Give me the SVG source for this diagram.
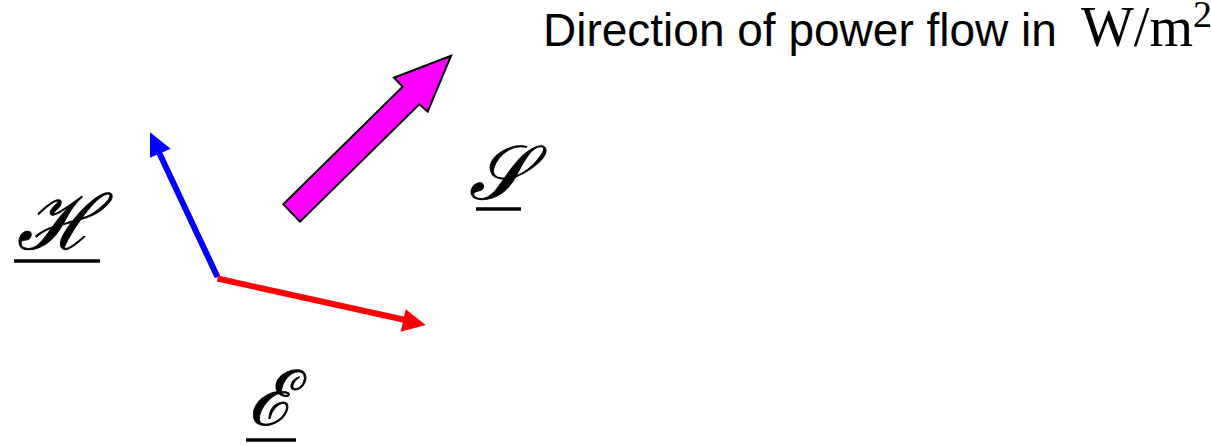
<svg xmlns="http://www.w3.org/2000/svg" width="1211" height="446" viewBox="0 0 1211 446">
<style>
.lbl{font-family:"DejaVu Serif","Liberation Serif",serif;font-style:italic;font-size:76px;fill:#000;stroke:#000;stroke-width:0.9}
.ul{stroke:#000;stroke-width:3.5}
.title{font-family:"Liberation Sans",Arial,sans-serif;font-size:46px;fill:#000}
.tnr{font-family:"Liberation Serif","Times New Roman",serif;font-size:56px}
.sup{font-family:"Liberation Serif","Times New Roman",serif;font-size:38px}
</style>
<rect width="1211" height="446" fill="#fff"/>
<g id="connectors">
<path id="H-vector" d="M217.5,277 L156,146" stroke="#0000ff" stroke-width="6" fill="none"/>
<polygon points="150,132.3 150,157.7 170.7,148.7" fill="#0000ff"/>
<path id="E-vector" d="M217.5,278.5 L410,321" stroke="#ff0000" stroke-width="6" fill="none"/>
<polygon points="425.7,325 405.7,309.3 400.7,331.7" fill="#ff0000"/>
</g>
<g id="S-arrow">
<polygon points="283.3,204.3 402.7,86.7 394,77.7 451,55.7 427.7,111.7 419.3,104.3 300,221.7" fill="#ff00ff" stroke="#000" stroke-width="2" stroke-linejoin="miter"/>
</g>
<g id="label-H">
<text class="lbl" x="57" y="249" text-anchor="middle">ℋ</text>
<line class="ul" x1="14" y1="261" x2="100" y2="261"/>
</g>
<g id="label-S">
<text class="lbl" x="498" y="199" text-anchor="middle">𝒮</text>
<line class="ul" x1="476" y1="209" x2="521" y2="209"/>
</g>
<g id="label-E">
<text class="lbl" x="271" y="425" text-anchor="middle">ℰ</text>
<line class="ul" x1="246" y1="440" x2="296" y2="440"/>
</g>
<g id="title">
<text class="title" x="543" y="46">Direction of power flow in <tspan class="tnr" x="1081">W/m</tspan><tspan class="sup" dy="-19">2</tspan></text>
</g>
</svg>
